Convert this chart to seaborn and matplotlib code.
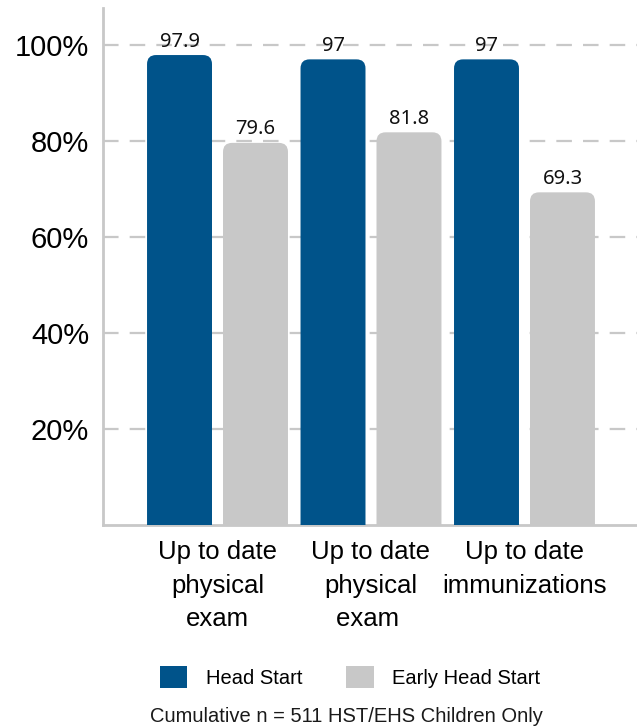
import pandas as pd
import numpy as np
import matplotlib
matplotlib.use("Agg")
import matplotlib.pyplot as plt
import seaborn as sns
from matplotlib.patches import FancyBboxPatch, Patch

# data
categories = ["Up to date\nphysical\nexam", "Up to date\nphysical\nexam ", "Up to date\nimmunizations"]
head_start = [97.9, 97.0, 97.0]
early_head_start = [79.6, 81.8, 69.3]
value_labels_hs = ["97.9", "97", "97"]
value_labels_ehs = ["79.6", "81.8", "69.3"]
groups = ["Head Start", "Early Head Start"]
y_ticks = [20, 40, 60, 80, 100]
y_tick_labels = ["20%", "40%", "60%", "80%", "100%"]

blue = "#00538A"
gray = "#C8C8C8"

df = pd.DataFrame({
    "category": categories * 2,
    "value": head_start + early_head_start,
    "group": [groups[0]] * 3 + [groups[1]] * 3,
})

sns.set_style("white")
plt.rcParams["font.family"] = ["Liberation Sans", "DejaVu Sans"]
plt.rcParams["text.color"] = "black"
plt.rcParams["xtick.color"] = "black"
plt.rcParams["ytick.color"] = "black"

fig = plt.figure(figsize=(6.37, 7.28), dpi=100)
ax = fig.add_axes([103 / 637, 1 - 525 / 728, 1 - 103 / 637, 517 / 728])

sns.barplot(data=df, x="category", y="value", hue="group",
            palette=[blue, gray], saturation=1, width=0.99, gap=0.145,
            legend=False, ax=ax, zorder=3)

ax.set_xlim(-0.746, 2.733)
ax.set_ylim(0, 107.7)

# swap plain bars for ones with rounded tops
px_x = 1 / 153.5
px_y = 1 / 4.8
old = list(ax.patches)
for p in old:
    x, w, h = p.get_x(), p.get_width(), p.get_height()
    fc = p.get_facecolor()
    p.remove()
    r = 9 * px_x
    fb = FancyBboxPatch((x, -10), w, h + 10,
                        boxstyle=f"round,pad=0,rounding_size={r}",
                        mutation_aspect=px_y / px_x,
                        facecolor=fc, edgecolor="none", zorder=3)
    ax.add_patch(fb)

# value labels
labels = value_labels_hs + value_labels_ehs
vals = head_start + early_head_start
offs = [-0.2475] * 3 + [0.2475] * 3
for i, (lab, v, o) in enumerate(zip(labels, vals, offs)):
    ax.annotate(lab, (i % 3 + o, v), xytext=(0, 2.5), textcoords="offset points",
                ha="center", va="bottom", fontsize=14.5,
                family=["Noto Sans", "DejaVu Sans"], color="#111111", zorder=4)

ax.set_yticks(y_ticks)
ax.set_yticklabels(y_tick_labels, fontsize=21)
ax.set_xticks(range(3))
ax.set_xticklabels(categories, fontsize=18.5, linespacing=1.5)
ax.tick_params(axis="y", length=0, pad=10)
ax.tick_params(axis="x", length=0, pad=11)
ax.set_xlabel("")
ax.set_ylabel("")

for yv in y_ticks:
    ax.axhline(yv, color="#C8C8C8", lw=1.6, linestyle=(0, (7, 5)), zorder=1)

sns.despine(ax=ax, top=True, right=True)
for s in ["left", "bottom"]:
    ax.spines[s].set_color("#C8C8C8")
    ax.spines[s].set_linewidth(2)

handles = [Patch(facecolor=blue, edgecolor="none"), Patch(facecolor=gray, edgecolor="none")]
fig.legend(handles, groups, loc="center", bbox_to_anchor=(350 / 637, 1 - 677 / 728),
           ncol=2, frameon=False, fontsize=14.5, handlelength=1.35, handleheight=1.35,
           handletextpad=0.9, columnspacing=2.2)

fig.text(346 / 637, 1 - 716 / 728, "Cumulative n = 511 HST/EHS Children Only",
         ha="center", va="center", fontsize=14.5, color="#1a1a1a")

fig.savefig("out.png", dpi=100)
